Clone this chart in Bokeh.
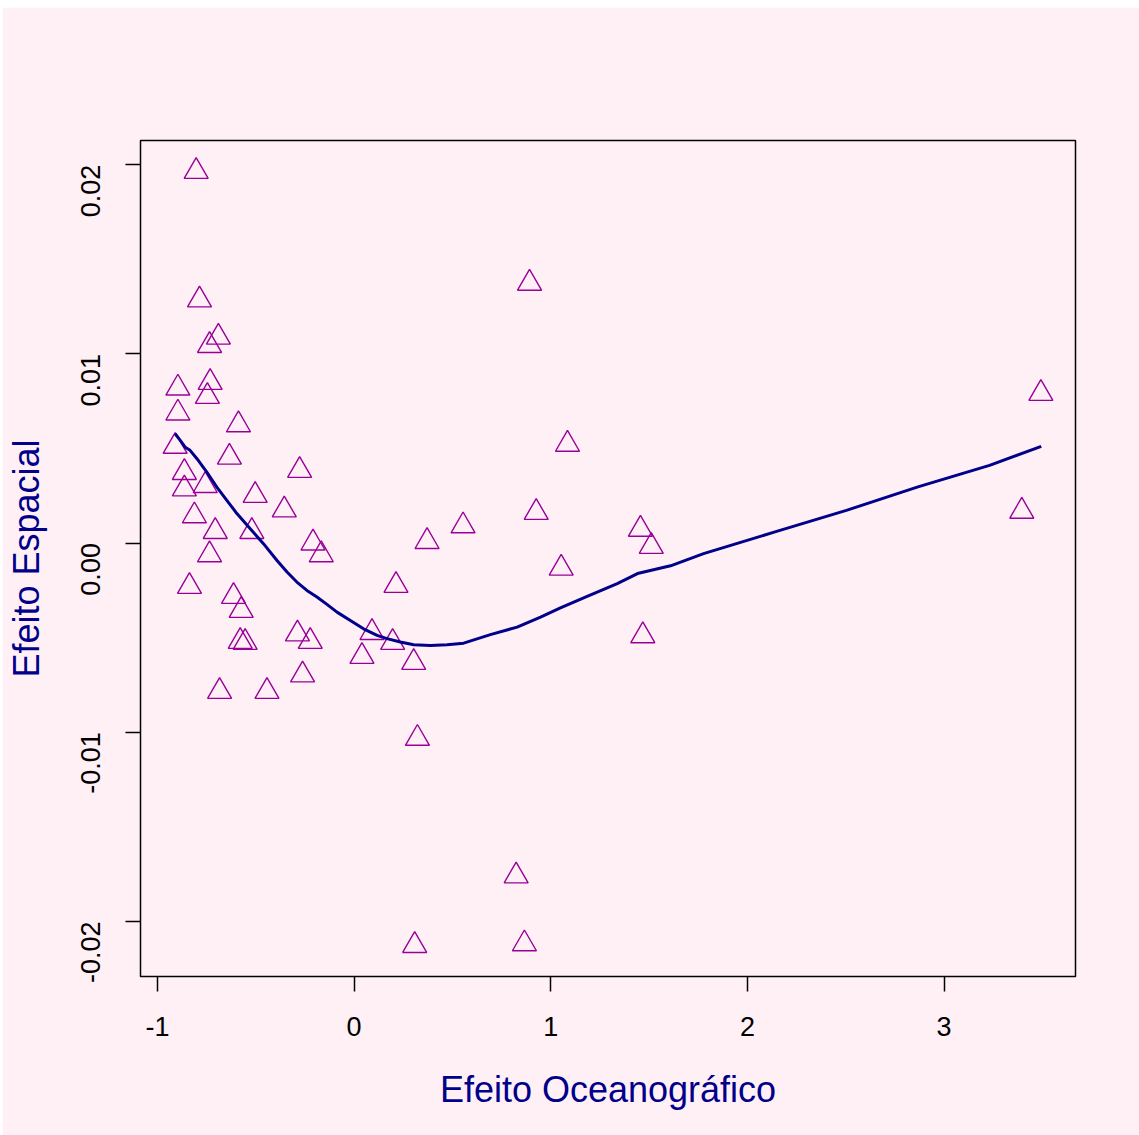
import math
from bokeh.plotting import figure
from bokeh.models import FixedTicker, Range1d, Spacer, ColumnDataSource, PrintfTickFormatter
from bokeh.layouts import column, row
from bokeh.embed import file_html
from bokeh.resources import INLINE

# ---- data ----
efeito_oceanografico = [
    -0.803, -0.786, -0.690, -0.735, -0.896, -0.732, -0.746, -0.896, -0.588,
    -0.634, -0.910, -0.863, -0.863, -0.757, -0.277, -0.503, -0.355, -0.812,
    -0.706, -0.520, -0.735, -0.209, -0.167, 0.371, -0.837, -0.613, -0.574,
    -0.579, -0.554, 0.213, -0.288, -0.223, 0.091, 0.196, 0.040, 0.303,
    -0.262, -0.684, -0.443,
    0.554, 0.926, 1.053, 1.456, 1.511, 1.468, 0.892, 1.085, 3.492, 3.395,
    0.824, 0.308, 0.866, 0.322,
]
efeito_espacial = [
    0.01964, 0.01285, 0.01088, 0.01044, 0.00819, 0.00849, 0.00775, 0.00687, 0.00625,
    0.00454, 0.00511, 0.00373, 0.00286, 0.00304, 0.00384, 0.00252, 0.00175, 0.00144,
    0.00061, 0.00061, -0.00062, 0.00000, -0.00062, 0.00008, -0.00229, -0.00282, -0.00356,
    -0.00520, -0.00525, -0.00224, -0.00480, -0.00520, -0.00473, -0.00525, -0.00599, -0.00631,
    -0.00697, -0.00784, -0.00784,
    0.00091, 0.00162, -0.00133, 0.00073, -0.00018, -0.00490, 0.01373, 0.00522, 0.00791, 0.00168,
    -0.01759, -0.02127, -0.02118, -0.01032,
]

# smooth (lowess) curve
curva_x = [-0.910, -0.884, -0.859, -0.834, -0.799, -0.749, -0.698, -0.647, -0.596,
           -0.528, -0.461, -0.392, -0.341, -0.291, -0.240, -0.189, -0.138, -0.087,
           -0.019, 0.048, 0.117, 0.167, 0.235, 0.303, 0.388, 0.473, 0.557, 0.693,
           0.829, 0.948, 1.049, 1.185, 1.338, 1.441, 1.609, 1.777, 2.140, 2.503,
           2.867, 3.231, 3.494]
curva_y = [0.00578, 0.00543, 0.00507, 0.00490, 0.00446, 0.00375, 0.00296, 0.00226, 0.00156,
           0.00076, -0.00003, -0.00092, -0.00153, -0.00206, -0.00250, -0.00285, -0.00324, -0.00365,
           -0.00409, -0.00453, -0.00488, -0.00505, -0.00523, -0.00537, -0.00541, -0.00537, -0.00529, -0.00484,
           -0.00444, -0.00391, -0.00343, -0.00282, -0.00214, -0.00161, -0.00120, -0.00056, 0.00059, 0.00173,
           0.00297, 0.00411, 0.00511]

x_ticks = [-1, 0, 1, 2, 3]
y_ticks = [-0.02, -0.01, 0.0, 0.01, 0.02]

x_title = "Efeito Oceanográfico"
y_title = "Efeito Espacial"

# ---- R-like axis ranges (4% extension) ----
def r_range(vals):
    lo, hi = min(vals), max(vals)
    d = (hi - lo) * 0.04
    return lo - d, hi + d

xr = r_range(efeito_oceanografico)
yr = r_range(efeito_espacial)

BG = "#FFF0F5"
FONT = "Liberation Sans"
LEFT_GAP = 2

p = figure(width=1139 - LEFT_GAP, height=1128, output_backend="svg", toolbar_location=None,
           x_range=Range1d(*xr), y_range=Range1d(*yr),
           min_border_left=132, min_border_right=64, min_border_top=133, min_border_bottom=159)
p.background_fill_color = BG
p.border_fill_color = BG
p.outline_line_color = "black"
p.outline_line_width = 1.5
p.grid.visible = False

src = ColumnDataSource(dict(x=efeito_oceanografico, y=efeito_espacial))
p.scatter("x", "y", source=src, marker="triangle", size=24, fill_color=None,
          line_color="#990099", line_width=1.4)
p.line(curva_x, curva_y, line_color="#00008B", line_width=3.0, line_join="round")

for ax in (p.xaxis[0], p.yaxis[0]):
    ax.axis_line_color = None
    ax.major_tick_in = 0
    ax.major_tick_out = 15
    ax.major_tick_line_width = 1.5
    ax.major_tick_line_color = "black"
    ax.minor_tick_line_color = None
    ax.major_label_text_font = FONT
    ax.major_label_text_font_size = "27px"
    ax.major_label_text_color = "black"
    ax.axis_label_text_font = FONT
    ax.axis_label_text_font_size = "36px"
    ax.axis_label_text_font_style = "normal"
    ax.axis_label_text_color = "#00008B"

p.xaxis[0].ticker = FixedTicker(ticks=x_ticks)
p.xaxis[0].formatter = PrintfTickFormatter(format="%d")
p.xaxis[0].axis_label = x_title
p.xaxis[0].major_label_standoff = 25
p.xaxis[0].axis_label_standoff = 30

p.yaxis[0].ticker = FixedTicker(ticks=y_ticks)
p.yaxis[0].formatter = PrintfTickFormatter(format="%.2f")
p.yaxis[0].axis_label = y_title
p.yaxis[0].major_label_orientation = math.pi / 2
p.yaxis[0].major_label_standoff = 35
p.yaxis[0].axis_label_standoff = 22

layout = column(Spacer(height=7, width=1139), row(Spacer(width=LEFT_GAP, height=1128), p))

with open("out.html", "w") as f:
    f.write(file_html(layout, INLINE))
